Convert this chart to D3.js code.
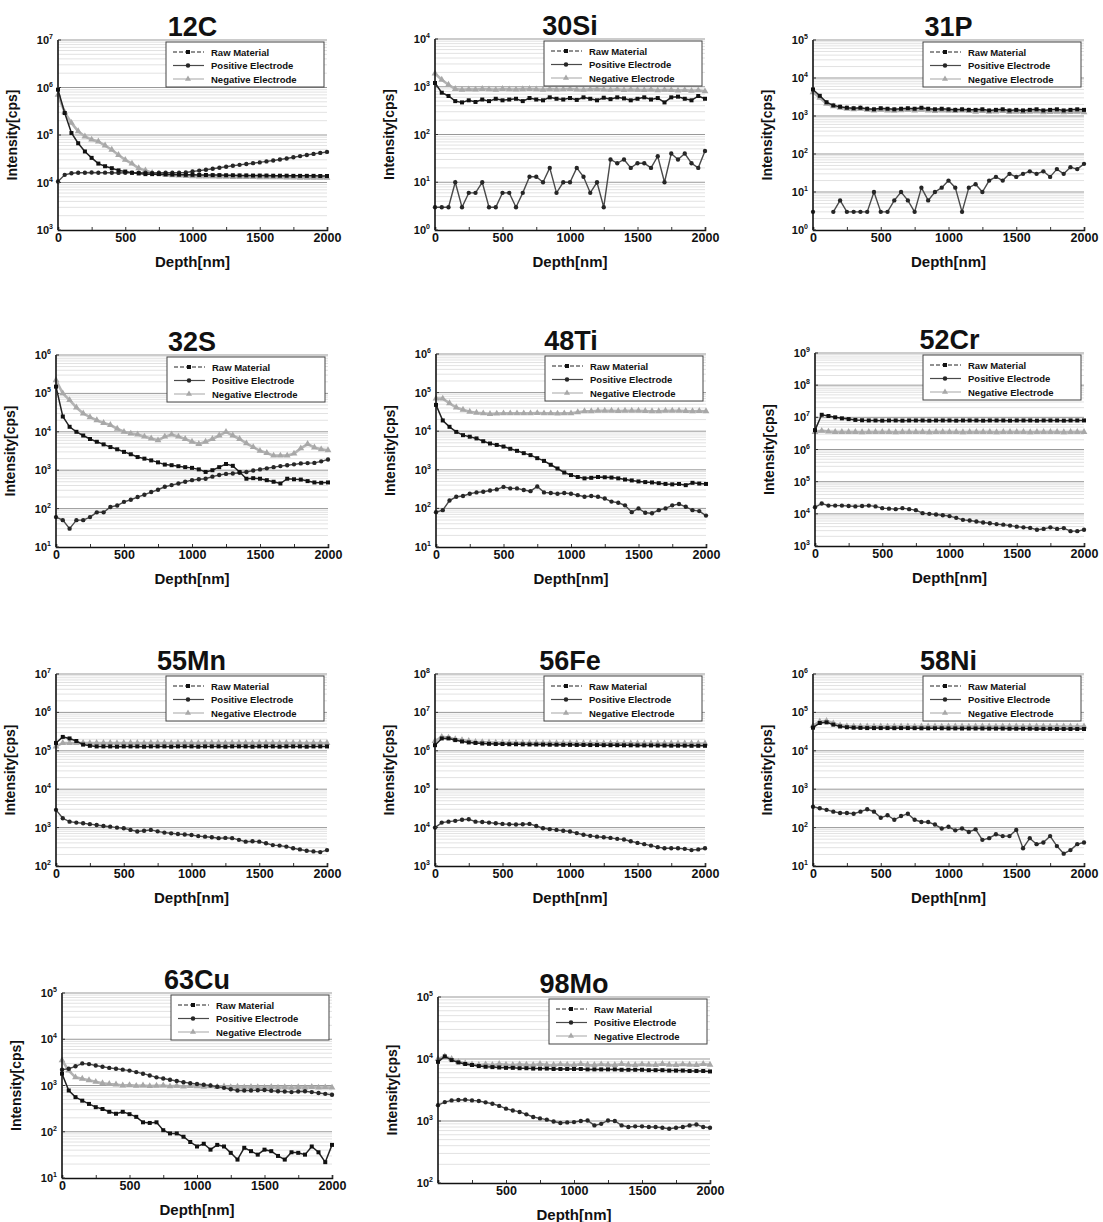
<!DOCTYPE html>
<html>
<head>
<meta charset="utf-8">
<script src="https://cdn.jsdelivr.net/npm/d3@7"></script>
<style>
  body { margin: 0; background: #fff; }
  text { font-family: "Liberation Sans", Arial, sans-serif; font-weight: bold; fill: #111; }
</style>
</head>
<body>
<script>
// depth axis shared by every series (nm)
var depth = [0,50,100,150,200,250,300,350,400,450,500,550,600,650,700,750,800,850,900,950,
             1000,1050,1100,1150,1200,1250,1300,1350,1400,1450,1500,1550,1600,1650,1700,1750,1800,1850,1900,1950,2000];

var seriesNames = ["Raw Material", "Positive  Electrode", "Negative Electrode"];

// ---- 12C
var c12_raw = [9e5,2.9e5,1.1e5,6.7e4,4.5e4,3.3e4,2.5e4,2.2e4,2e4,1.8e4,1.7e4,1.6e4,1.55e4,1.5e4,1.5e4,1.5e4,1.48e4,1.47e4,1.46e4,1.45e4,
               1.45e4,1.44e4,1.44e4,1.43e4,1.43e4,1.42e4,1.42e4,1.41e4,1.41e4,1.4e4,1.4e4,1.4e4,1.39e4,1.39e4,1.39e4,1.38e4,1.38e4,1.38e4,1.38e4,1.37e4,1.37e4];
var c12_pos = [1.05e4,1.45e4,1.57e4,1.6e4,1.6e4,1.62e4,1.6e4,1.61e4,1.6e4,1.59e4,1.6e4,1.61e4,1.6e4,1.6e4,1.59e4,1.6e4,1.6e4,1.61e4,1.6e4,1.62e4,
               1.7e4,1.78e4,1.85e4,1.95e4,2.05e4,2.15e4,2.25e4,2.35e4,2.45e4,2.55e4,2.65e4,2.78e4,2.9e4,3.05e4,3.2e4,3.4e4,3.6e4,3.8e4,4e4,4.2e4,4.4e4];
var c12_neg = [7e5,3e5,1.8e5,1.2e5,9.3e4,8e4,7.3e4,6e4,4.9e4,3.8e4,3e4,2.5e4,2e4,1.8e4,1.6e4,1.5e4,1.45e4,1.42e4,1.4e4,1.37e4,
               1.35e4,1.34e4,1.33e4,1.33e4,1.32e4,1.32e4,1.31e4,1.31e4,1.3e4,1.3e4,1.29e4,1.29e4,1.28e4,1.28e4,1.27e4,1.27e4,1.26e4,1.26e4,1.25e4,1.25e4,1.25e4];

// ---- 30Si
var si30_raw = [1200,750,640,500,470,520,480,540,500,560,520,540,560,500,580,540,520,600,560,540,
                580,530,600,560,520,590,550,600,570,520,560,600,540,580,470,600,620,560,520,640,560];
var si30_pos = [3,3,3,10,3,6,6,10,3,3,6,6,3,6,13,13,10,20,6,10,
                10,20,13,6,10,3,30,25,30,20,25,25,20,35,10,40,30,40,25,20,45];
var si30_neg = [1900,1400,1100,900,860,880,870,900,880,860,900,880,870,890,900,880,860,890,870,880,
                900,870,860,880,890,870,860,880,850,870,860,850,870,840,860,850,830,850,820,840,800];

// ---- 31P
var p31_raw = [5000,3400,2300,1900,1750,1650,1600,1650,1550,1500,1600,1550,1500,1550,1600,1550,1650,1550,1500,1550,
               1500,1450,1500,1450,1450,1500,1400,1450,1500,1400,1450,1400,1450,1500,1400,1450,1500,1400,1450,1500,1450];
var p31_pos = [3,null,null,3,6,3,3,3,3,10,3,3,6,10,6,3,13,6,10,13,
               20,13,3,13,16,10,20,25,20,30,25,30,35,30,35,25,40,30,45,40,55];
var p31_neg = [4200,3000,2100,1800,1650,1550,1500,1550,1450,1400,1450,1400,1380,1420,1450,1400,1450,1400,1350,1400,
               1380,1350,1400,1350,1300,1350,1300,1320,1350,1280,1300,1280,1300,1320,1250,1280,1300,1250,1280,1300,1250];

// ---- 32S
var s32_raw = [150000,25000,13500,10000,8000,6500,5500,4700,4000,3500,3000,2600,2200,2000,1800,1600,1400,1350,1270,1200,
               1150,1050,900,1000,1200,1450,1300,900,600,620,600,550,500,450,600,580,570,520,480,470,480];
var s32_pos = [60,50,30,50,50,60,80,80,110,120,150,170,200,230,270,310,370,410,450,500,
               550,580,600,680,750,800,820,860,900,980,1050,1120,1200,1280,1350,1420,1500,1530,1550,1700,1900];
var s32_neg = [220000,100000,67000,43000,30000,24000,20000,17000,15000,12000,10000,9000,8500,7500,6700,6000,7500,8500,7500,6500,
               5500,4800,5500,6500,8000,10000,8000,6500,5000,4000,3200,2800,2400,2400,2400,2700,3700,4800,3900,3500,3300];

// ---- 48Ti
var ti48_raw = [48000,19000,13000,9600,7900,7200,6500,5500,4800,4400,4000,3500,3100,2700,2400,2000,1700,1350,1080,850,
                730,650,600,620,650,640,630,600,560,530,500,480,470,450,430,420,430,400,460,440,430];
var ti48_pos = [80,90,160,200,210,240,260,270,290,310,360,330,330,300,280,370,260,250,240,250,
                240,220,200,210,200,180,150,140,120,80,100,77,75,90,100,120,130,110,90,85,65];
var ti48_neg = [70000,70000,53000,41000,36000,32000,30000,29000,28000,28500,29000,29000,29000,29000,29000,29500,29000,29000,28500,29000,
                29000,31000,33000,33000,34000,34000,34000,33500,34000,34000,34000,33500,33000,33000,34000,34000,34000,33500,33000,33500,33000];

// ---- 52Cr
var cr52_raw = [4e6,1.2e7,1.1e7,1e7,9.3e6,8.8e6,8.3e6,8.1e6,8e6,8e6,7.9e6,8e6,8e6,7.9e6,8e6,8e6,8e6,7.9e6,8e6,8e6,
                8e6,7.9e6,8e6,8e6,8e6,7.9e6,8e6,8e6,8e6,7.9e6,8e6,8e6,8e6,7.9e6,8e6,8e6,8e6,7.9e6,8e6,8e6,8e6];
var cr52_pos = [1.6e4,2.1e4,1.8e4,1.8e4,1.8e4,1.75e4,1.7e4,1.75e4,1.8e4,1.7e4,1.5e4,1.45e4,1.4e4,1.5e4,1.4e4,1.3e4,1.05e4,1e4,9.5e3,9e3,
                8.5e3,7.5e3,6.5e3,6.2e3,5.8e3,5.4e3,5.1e3,4.8e3,4.6e3,4.3e3,4e3,3.8e3,3.65e3,3.2e3,3.4e3,3.8e3,3.4e3,3.6e3,2.9e3,2.9e3,3.2e3];
var cr52_neg = [3.5e6,3.8e6,3.6e6,3.5e6,3.5e6,3.5e6,3.5e6,3.45e6,3.5e6,3.5e6,3.5e6,3.5e6,3.45e6,3.5e6,3.5e6,3.5e6,3.5e6,3.45e6,3.5e6,3.5e6,
                3.5e6,3.5e6,3.45e6,3.5e6,3.5e6,3.5e6,3.5e6,3.45e6,3.5e6,3.5e6,3.5e6,3.5e6,3.45e6,3.5e6,3.5e6,3.5e6,3.5e6,3.45e6,3.5e6,3.5e6,3.5e6];

// ---- 55Mn
var mn55_raw = [1.6e5,2.3e5,2.1e5,1.8e5,1.45e5,1.35e5,1.3e5,1.3e5,1.3e5,1.28e5,1.3e5,1.3e5,1.3e5,1.28e5,1.3e5,1.3e5,1.3e5,1.28e5,1.3e5,1.3e5,
                1.3e5,1.28e5,1.3e5,1.3e5,1.3e5,1.28e5,1.3e5,1.3e5,1.3e5,1.28e5,1.3e5,1.3e5,1.3e5,1.28e5,1.3e5,1.3e5,1.3e5,1.28e5,1.3e5,1.3e5,1.3e5];
var mn55_pos = [2900,1750,1430,1350,1300,1230,1170,1100,1060,1000,960,870,790,830,870,800,740,710,680,660,
                640,600,580,560,530,540,530,480,430,440,430,390,350,340,320,290,270,250,240,230,260];
var mn55_neg = [1.3e5,1.6e5,1.6e5,1.6e5,1.6e5,1.58e5,1.6e5,1.6e5,1.6e5,1.58e5,1.6e5,1.6e5,1.6e5,1.58e5,1.6e5,1.6e5,1.6e5,1.58e5,1.6e5,1.6e5,
                1.6e5,1.58e5,1.6e5,1.6e5,1.6e5,1.58e5,1.6e5,1.6e5,1.6e5,1.58e5,1.6e5,1.6e5,1.6e5,1.58e5,1.6e5,1.6e5,1.6e5,1.58e5,1.6e5,1.6e5,1.6e5];

// ---- 56Fe
var fe56_raw = [1.4e6,2.1e6,2.1e6,1.9e6,1.75e6,1.65e6,1.6e6,1.55e6,1.52e6,1.5e6,1.5e6,1.48e6,1.48e6,1.47e6,1.46e6,1.46e6,1.45e6,1.44e6,1.44e6,1.43e6,
                1.43e6,1.42e6,1.42e6,1.41e6,1.41e6,1.4e6,1.4e6,1.4e6,1.39e6,1.39e6,1.38e6,1.38e6,1.38e6,1.37e6,1.37e6,1.36e6,1.36e6,1.36e6,1.35e6,1.35e6,1.35e6];
var fe56_pos = [1e4,1.35e4,1.43e4,1.5e4,1.6e4,1.65e4,1.43e4,1.4e4,1.35e4,1.3e4,1.25e4,1.22e4,1.2e4,1.22e4,1.25e4,1.1e4,9.6e3,9.1e3,8.7e3,8.3e3,
                7.9e3,7.2e3,6.5e3,6.1e3,5.8e3,5.6e3,5.4e3,5.1e3,4.9e3,4.4e3,4e3,3.7e3,3.4e3,3.1e3,2.9e3,2.9e3,2.9e3,2.8e3,2.6e3,2.7e3,2.9e3];
var fe56_neg = [1.8e6,2.3e6,2.2e6,2e6,1.9e6,1.8e6,1.7e6,1.68e6,1.65e6,1.63e6,1.62e6,1.62e6,1.61e6,1.6e6,1.6e6,1.6e6,1.59e6,1.59e6,1.58e6,1.58e6,
                1.58e6,1.57e6,1.57e6,1.57e6,1.57e6,1.56e6,1.56e6,1.56e6,1.56e6,1.56e6,1.55e6,1.55e6,1.55e6,1.55e6,1.55e6,1.55e6,1.55e6,1.55e6,1.55e6,1.55e6,1.55e6];

// ---- 58Ni
var ni58_raw = [4e4,5.3e4,5.5e4,4.8e4,4.3e4,4.1e4,4e4,3.95e4,3.9e4,3.9e4,3.9e4,3.9e4,3.88e4,3.9e4,3.9e4,3.88e4,3.85e4,3.85e4,3.85e4,3.85e4,
                3.82e4,3.82e4,3.8e4,3.8e4,3.8e4,3.8e4,3.78e4,3.78e4,3.78e4,3.75e4,3.75e4,3.75e4,3.75e4,3.72e4,3.72e4,3.72e4,3.7e4,3.7e4,3.7e4,3.7e4,3.7e4];
var ni58_pos = [350,320,290,260,240,240,230,260,300,260,180,210,160,200,230,160,140,140,120,95,
                105,85,95,77,90,48,53,67,60,60,87,29,53,37,41,60,33,21,26,37,41];
var ni58_neg = [4.5e4,5.8e4,6e4,5.2e4,4.6e4,4.4e4,4.3e4,4.3e4,4.3e4,4.3e4,4.3e4,4.28e4,4.3e4,4.3e4,4.3e4,4.28e4,4.3e4,4.3e4,4.3e4,4.28e4,
                4.3e4,4.3e4,4.3e4,4.28e4,4.3e4,4.3e4,4.3e4,4.28e4,4.3e4,4.3e4,4.3e4,4.28e4,4.3e4,4.3e4,4.3e4,4.28e4,4.3e4,4.3e4,4.3e4,4.28e4,4.3e4];

// ---- 63Cu
var cu63_raw = [1800,780,560,470,400,340,310,270,245,270,240,210,160,155,160,108,92,92,78,60,
                48,55,41,52,48,35,25,45,38,32,41,38,30,25,36,35,32,48,36,22,52];
var cu63_pos = [2200,2300,2600,3000,2900,2700,2550,2400,2300,2200,2100,1950,1800,1650,1500,1420,1330,1250,1180,1120,
                1080,1040,1000,940,890,830,780,780,780,790,800,770,750,740,720,740,750,720,690,660,630];
var cu63_neg = [3500,2100,1500,1400,1300,1200,1120,1080,1050,1000,1020,980,1000,970,990,1000,960,980,950,970,
                960,940,960,930,950,920,940,910,930,920,900,930,900,920,890,920,900,930,900,910,900];

// ---- 98Mo
var mo98_raw = [9000,11000,9600,8800,8300,8000,7700,7500,7400,7300,7200,7200,7100,7100,7000,7000,7000,6900,6900,6900,
                6900,6900,6800,6800,6800,6800,6800,6700,6700,6700,6700,6600,6600,6600,6500,6500,6500,6400,6400,6400,6300];
var mo98_pos = [1800,2020,2150,2180,2200,2150,2100,2000,1900,1750,1580,1480,1400,1280,1160,1100,1050,980,930,950,
                960,1000,1020,850,900,1020,1000,850,800,820,820,800,800,780,750,780,800,850,880,800,780];
var mo98_neg = [10000,11000,10000,9000,8500,8200,8000,8200,8000,8300,8100,8000,8200,8100,8000,8300,8100,8000,8200,8100,
                8000,8300,8100,8000,8200,8100,8000,8300,8100,8000,8200,8100,8000,8300,8100,8000,8200,8100,8000,8300,8100];

// layout: plot box [left, top, width, height] and log range for each panel
var panels = [
  { name: "12C",  box: [58, 40, 269, 190],  dom: [1e3, 1e7], data: [c12_raw, c12_pos, c12_neg] },
  { name: "30Si", box: [435, 39, 270, 191], dom: [1e0, 1e4], data: [si30_raw, si30_pos, si30_neg] },
  { name: "31P",  box: [813, 40, 271, 190], dom: [1e0, 1e5], data: [p31_raw, p31_pos, p31_neg] },
  { name: "32S",  box: [56, 355, 272, 192], dom: [1e1, 1e6], data: [s32_raw, s32_pos, s32_neg] },
  { name: "48Ti", box: [436, 354, 270, 193], dom: [1e1, 1e6], data: [ti48_raw, ti48_pos, ti48_neg] },
  { name: "52Cr", box: [815, 353, 269, 193], dom: [1e3, 1e9], data: [cr52_raw, cr52_pos, cr52_neg] },
  { name: "55Mn", box: [56, 674, 271, 192], dom: [1e2, 1e7], data: [mn55_raw, mn55_pos, mn55_neg] },
  { name: "56Fe", box: [435, 674, 270, 192], dom: [1e3, 1e8], data: [fe56_raw, fe56_pos, fe56_neg] },
  { name: "58Ni", box: [813, 674, 271, 192], dom: [1e1, 1e6], data: [ni58_raw, ni58_pos, ni58_neg] },
  { name: "63Cu", box: [62, 993, 270, 185],  dom: [1e1, 1e5], data: [cu63_raw, cu63_pos, cu63_neg], noZero: false },
  { name: "98Mo", box: [438, 997, 272, 186], dom: [1e2, 1e5], data: [mo98_raw, mo98_pos, mo98_neg], noZero: true }
];

// series styles: raw, positive, negative
var lineColor   = ["#222", "#4a4a4a", "#b4b4b4"];
var lineWidth   = [1.5, 1.4, 2.6];
var markerColor = ["#111", "#262626", "#a8a8a8"];
var markerType  = [d3.symbolSquare, d3.symbolCircle, d3.symbolTriangle];
var markerSize  = [16, 15, 20];

var svg = d3.select("body").append("svg").attr("width", 1103).attr("height", 1222);

panels.forEach(function(p) {
    var x0 = p.box[0], y0 = p.box[1], w = p.box[2], h = p.box[3];
    var g = svg.append("g").attr("transform", "translate(" + x0 + "," + y0 + ")");

    var x = d3.scaleLinear().domain([0, 2000]).range([0, w]);
    var y = d3.scaleLog().domain(p.dom).range([h, 0]);

    var e0 = Math.round(Math.log10(p.dom[0])), e1 = Math.round(Math.log10(p.dom[1]));
    var minor = [], major = [];
    for (var e = e0; e <= e1; e++) {
        major.push(Math.pow(10, e));
        if (e < e1) for (var k = 2; k < 10; k++) minor.push(k * Math.pow(10, e));
    }

    // grid
    g.selectAll("line.minor").data(minor).enter().append("line")
        .attr("x1", 0).attr("x2", w)
        .attr("y1", function(d) { return y(d); }).attr("y2", function(d) { return y(d); })
        .attr("stroke", "#e2e2e2").attr("stroke-width", 1);
    g.selectAll("line.major").data(major.slice(1)).enter().append("line")
        .attr("x1", 0).attr("x2", w)
        .attr("y1", function(d) { return y(d); }).attr("y2", function(d) { return y(d); })
        .attr("stroke", "#999").attr("stroke-width", 1);

    // series, negative first so the dark ones sit on top
    [2, 1, 0].forEach(function(si) {
        var vals = p.data[si];
        var pts = depth.map(function(d, i) { return { x: d, v: vals[i] }; });
        var line = d3.line()
            .defined(function(d) { return d.v != null; })
            .x(function(d) { return x(d.x); })
            .y(function(d) { return y(d.v); });
        g.append("path").datum(pts)
            .attr("d", line)
            .attr("fill", "none")
            .attr("stroke", lineColor[si])
            .attr("stroke-width", lineWidth[si]);
        g.selectAll("path.m" + si).data(pts.filter(function(d) { return d.v != null; }))
            .enter().append("path")
            .attr("transform", function(d) { return "translate(" + x(d.x) + "," + y(d.v) + ")"; })
            .attr("d", d3.symbol().type(markerType[si]).size(markerSize[si]))
            .attr("fill", markerColor[si]);
    });

    // axes
    var xAxis = d3.axisBottom(x).tickValues([0, 250, 500, 750, 1000, 1250, 1500, 1750, 2000])
        .tickSize(-3).tickFormat(function(d) { return (d % 500 === 0 && !(p.noZero && d === 0)) ? d : ""; });
    var gx = g.append("g").attr("transform", "translate(0," + h + ")").call(xAxis);
    gx.select(".domain").attr("stroke", "#111").attr("stroke-width", 1.6);
    gx.selectAll(".tick line").attr("stroke", "#333");
    gx.selectAll(".tick text").attr("dy", "0.3em").attr("y", 8)
        .style("font-size", "12.5px").style("font-family", "Liberation Sans, Arial").style("font-weight", "bold");

    var gy = g.append("g");
    gy.append("line").attr("x1", 0).attr("x2", 0).attr("y1", 0).attr("y2", h)
        .attr("stroke", "#111").attr("stroke-width", 1.6);
    gy.selectAll("line.t").data(major).enter().append("line")
        .attr("x1", 0).attr("x2", 3)
        .attr("y1", function(d) { return y(d); }).attr("y2", function(d) { return y(d); })
        .attr("stroke", "#333");
    var lab = gy.selectAll("text.yl").data(major).enter().append("text")
        .attr("x", -5).attr("y", function(d) { return y(d) + 4; })
        .attr("text-anchor", "end").style("font-size", "11px");
    lab.append("tspan").text("10");
    lab.append("tspan").attr("dy", -5).style("font-size", "7px")
        .text(function(d) { return Math.round(Math.log10(d)); });

    // labels
    g.append("text").attr("x", w / 2).attr("y", -4).attr("text-anchor", "middle")
        .style("font-size", "27px").text(p.name);
    g.append("text").attr("x", w / 2).attr("y", h + 37).attr("text-anchor", "middle")
        .style("font-size", "15px").text("Depth[nm]");
    g.append("text").attr("transform", "translate(-41," + (h / 2) + ") rotate(-90)")
        .attr("text-anchor", "middle").style("font-size", "14px").text("Intensity[cps]");

    // legend
    var lw = 158, lh = 45;
    var lg = g.append("g").attr("transform", "translate(" + (w - 3 - lw) + ",2)");
    lg.append("rect").attr("width", lw).attr("height", lh)
        .attr("fill", "#fff").attr("stroke", "#444").attr("stroke-width", 1);
    seriesNames.forEach(function(name, si) {
        var ly = 10 + si * 13.5;
        lg.append("line").attr("x1", 7).attr("x2", 38).attr("y1", ly).attr("y2", ly)
            .attr("stroke", lineColor[si]).attr("stroke-width", 1.2)
            .attr("stroke-dasharray", si === 0 ? "4,2" : null);
        lg.append("path").attr("transform", "translate(22," + ly + ")")
            .attr("d", d3.symbol().type(markerType[si]).size(16))
            .attr("fill", markerColor[si]);
        lg.append("text").attr("x", 45).attr("y", ly + 3.5)
            .style("font-size", "9.5px").text(name);
    });
});
</script>
</body>
</html>
